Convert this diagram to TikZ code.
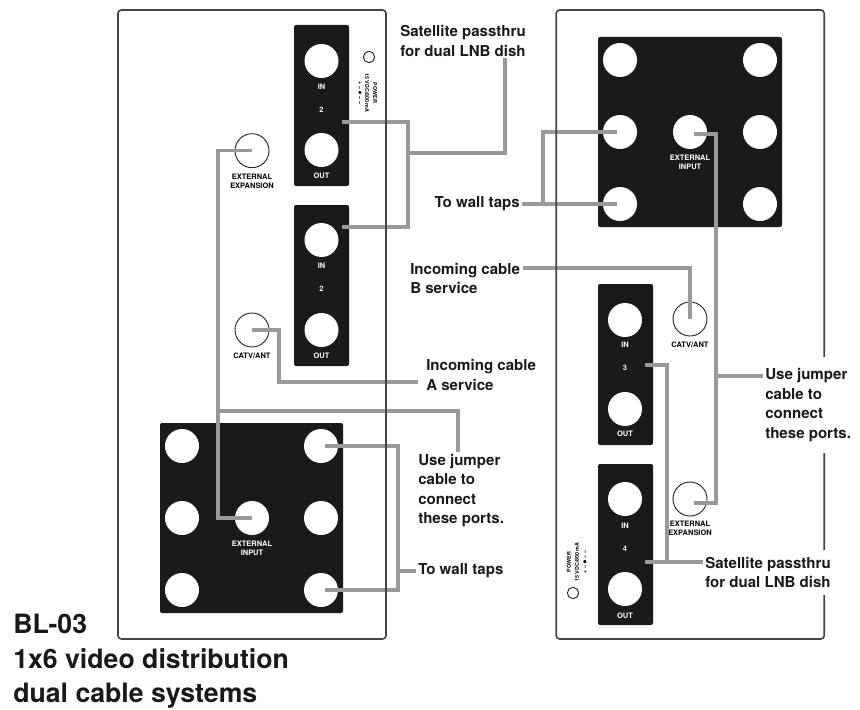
\documentclass[tikz,border=0pt]{standalone}
\usepackage{fontspec}
\setmainfont{TeX Gyre Heros}
\definecolor{blockgray}{HTML}{1A1A1A}
\definecolor{cablegray}{HTML}{999999}
\definecolor{panelgray}{HTML}{444444}
\pgfdeclarelayer{edge}
\pgfdeclarelayer{front}
\pgfsetlayers{main,edge,front}
\tikzset{
    panel/.style={draw=panelgray, line width=1.2pt, rounded corners=2.5pt, minimum width=201pt, minimum height=471.75pt},
    block/.style={fill=blockgray, rounded corners=1.5pt, inner sep=0pt},
    port/.style={circle, fill=white, minimum size=25.5pt, inner sep=0pt},
    jack/.style={circle, draw=black!85, fill=white, line width=0.7pt, minimum size=25.5pt, inner sep=0pt},
    led/.style={circle, draw=black!85, line width=0.7pt, minimum size=8.5pt, inner sep=0pt},
    tag/.style={font=\bfseries\fontsize{5.6}{7}\selectfont, inner sep=0pt, align=center},
    wtag/.style={tag, text=white},
    tiny/.style={font=\bfseries\fontsize{4}{6}\selectfont, inner sep=0pt, align=center},
    note/.style={fill=white, text=black!90, font=\bfseries\fontsize{11.3}{14.6}\selectfont, align=left, inner xsep=1.5pt, inner ysep=1pt},
    title/.style={text=black!90, font=\bfseries\fontsize{20}{25.9}\selectfont, align=left, inner sep=0pt},
    cable/.style={draw=cablegray, line width=2.6pt}
}
\begin{document}
\begin{tikzpicture}[x=0.75pt, y=-0.75pt]
    \useasboundingbox (0,0) rectangle (860,710);
    % back panels
    \begin{pgfonlayer}{edge}
        \node[panel] (panelA) at (252,324.5) {};
        \node[panel] (panelB) at (690.25,324.5) {};
    \end{pgfonlayer}

    % left panel, splitter strips
    \node[block, minimum width=41.25pt, minimum height=120.75pt] (stripA) at (321.5,105.5) {};
    \node[block, minimum width=41.25pt, minimum height=120.75pt] (stripB) at (321.5,285.5) {};
    \node[port] (inA)  at (321.5,61)  {};
    \node[port] (outA) at (321.5,150) {};
    \node[port] (inB)  at (321.5,240) {};
    \node[port] (outB) at (321.5,330) {};
    \node[wtag] (inAt)  at (321.5,87)  {IN};
    \node[wtag] (numA)  at (321.5,110) {2};
    \node[wtag] (outAt) at (321.5,176) {OUT};
    \node[wtag] (inBt)  at (321.5,266) {IN};
    \node[wtag] (numB)  at (321.5,289) {2};
    \node[wtag] (outBt) at (321.5,356) {OUT};

    % left panel, jacks
    \node[jack] (expA)  at (252,150.7) {};
    \node[jack] (catvA) at (252,330)   {};
    \node[tag] (expAt)  at (252,181.5) {EXTERNAL\\EXPANSION};
    \node[tag] (catvAt) at (252,356)   {CATV/ANT};
    \node[led] (ledA)   at (369,57)    {};
    \node[tiny, rotate=-90] (powA) at (371,93) {POWER\\15 VDC/800 mA};
    \node[tiny, rotate=-90] (symA) at (360,93) {+\,\,--\,$\bullet$\,--\,\,--};

    % left panel, outlet block
    \node[block, minimum width=137.25pt, minimum height=142.5pt] (outletA) at (251.5,518) {};
    \node[port] (a1) at (182,446) {};
    \node[port] (a2) at (321,446) {};
    \node[port] (a3) at (182,518) {};
    \node[port] (a4) at (252,518) {};
    \node[port] (a5) at (321,518) {};
    \node[port] (a6) at (182,590) {};
    \node[port] (a7) at (321,590) {};
    \node[wtag] (inputAt) at (252,548) {EXTERNAL\\INPUT};

    % right panel, outlet block
    \node[block, minimum width=138pt, minimum height=142.5pt] (outletB) at (690,132) {};
    \node[port] (b1) at (620,60)  {};
    \node[port] (b2) at (760,60)  {};
    \node[port] (b3) at (620,132) {};
    \node[port] (b4) at (690,132) {};
    \node[port] (b5) at (760,132) {};
    \node[port] (b6) at (620,204) {};
    \node[port] (b7) at (760,204) {};
    \node[wtag] (inputBt) at (690,162) {EXTERNAL\\INPUT};

    % right panel, splitter strips
    \node[block, minimum width=41.25pt, minimum height=120.75pt] (stripC) at (625.5,364.5) {};
    \node[block, minimum width=41.25pt, minimum height=120.75pt] (stripD) at (625.5,544.5) {};
    \node[port] (inC)  at (625,320) {};
    \node[port] (outC) at (625,409) {};
    \node[port] (inD)  at (625,499) {};
    \node[port] (outD) at (625,589) {};
    \node[wtag] (inCt)  at (625,345) {IN};
    \node[wtag] (numC)  at (625,368) {3};
    \node[wtag] (outCt) at (625,434) {OUT};
    \node[wtag] (inDt)  at (625,526) {IN};
    \node[wtag] (numD)  at (625,549) {4};
    \node[wtag] (outDt) at (625,616) {OUT};

    % right panel, jacks
    \node[jack] (catvB) at (690,319) {};
    \node[jack] (expB)  at (690,499) {};
    \node[tag] (catvBt) at (690,345)   {CATV/ANT};
    \node[tag] (expBt)  at (690,528.5) {EXTERNAL\\EXPANSION};
    \node[led] (ledB)   at (573,593) {};
    \node[tiny, rotate=90] (powB) at (573,562) {POWER\\15 VDC/800 mA};
    \node[tiny, rotate=90] (symB) at (585,562) {+\,\,--\,$\bullet$\,--\,\,--};

    % callouts
    \begin{pgfonlayer}{front}
        \node[note, anchor=west] (noteSatA)  at (398,41)    {Satellite passthru\\for dual LNB dish};
        \node[note, anchor=west] (noteCatvA) at (424,375)   {Incoming cable\\A service};
        \node[note, anchor=west] (noteJumpA) at (416,490.5) {Use jumper\\cable to\\connect\\these ports.};
        \node[note, anchor=west] (noteTapA)  at (416,571)   {To wall taps};
        \node[note, anchor=east] (noteTapB)  at (522,204)   {To wall taps};
        \node[note, anchor=west] (noteCatvB) at (408,278.5) {Incoming cable\\B service};
        \node[note, anchor=west, inner ysep=9pt] (noteJumpB) at (763,405) {Use jumper\\cable to\\connect\\these ports.};
        \node[note, anchor=west, inner ysep=5pt] (noteSatB)  at (703,572.5) {Satellite passthru\\for dual LNB dish};
        \node[title, anchor=north west] (titleBL) at (13,614) {BL-03\\1x6 video distribution\\dual cable systems};
    \end{pgfonlayer}

    % left panel cables
    \coordinate (satAa) at (342,122);
    \coordinate (satAb) at (342,227);
    \coordinate (satAc) at (408,153);
    \coordinate (satAd) at (505,153);
    \draw[cable] (satAa) -| (satAc) |- (satAb);
    \draw[cable] (satAc) -- (satAd) -- (satAd |- noteSatA.south);
    \coordinate (jumpA) at (218,411);
    \draw[cable] (expA.center) -- ++(-34,0) |- (a4.center);
    \draw[cable] (jumpA) -| (noteJumpA.north -| 458,0);
    \coordinate (catvAend) at (418,382);
    \draw[cable] (catvA.center) -- ++(27,0) |- (catvAend);
    \coordinate (wallA) at (398,571);
    \draw[cable] ([shift={(4,0)}]a2.center) -| (wallA) |- ([shift={(4,0)}]a7.center);
    \draw[cable] (wallA) -- (noteTapA.west);

    % right panel cables
    \coordinate (wallB) at (543,204);
    \draw[cable] ([xshift=-2.2pt]b3.center) -| (wallB) -- ([xshift=-2.2pt]b6.center);
    \draw[cable] (noteTapB.east) -- (wallB);
    \coordinate (catvBend) at (523,268);
    \draw[cable] (catvBend) -| (catvB.center);
    \coordinate (jumpB) at (716,376);
    \draw[cable] ([shift={(4,2)}]b4.center) -- ++(22,0) |- ([shift={(4,4)}]expB.center);
    \draw[cable] (jumpB) -- (noteJumpB.west |- jumpB);
    \coordinate (satBa) at (645,365);
    \coordinate (satBb) at (645,562);
    \coordinate (satBc) at (667,562);
    \draw[cable] (satBa) -| (satBc) -- (satBb);
    \draw[cable] (satBc) -- (noteSatB.west |- satBc);
\end{tikzpicture}
\end{document}
